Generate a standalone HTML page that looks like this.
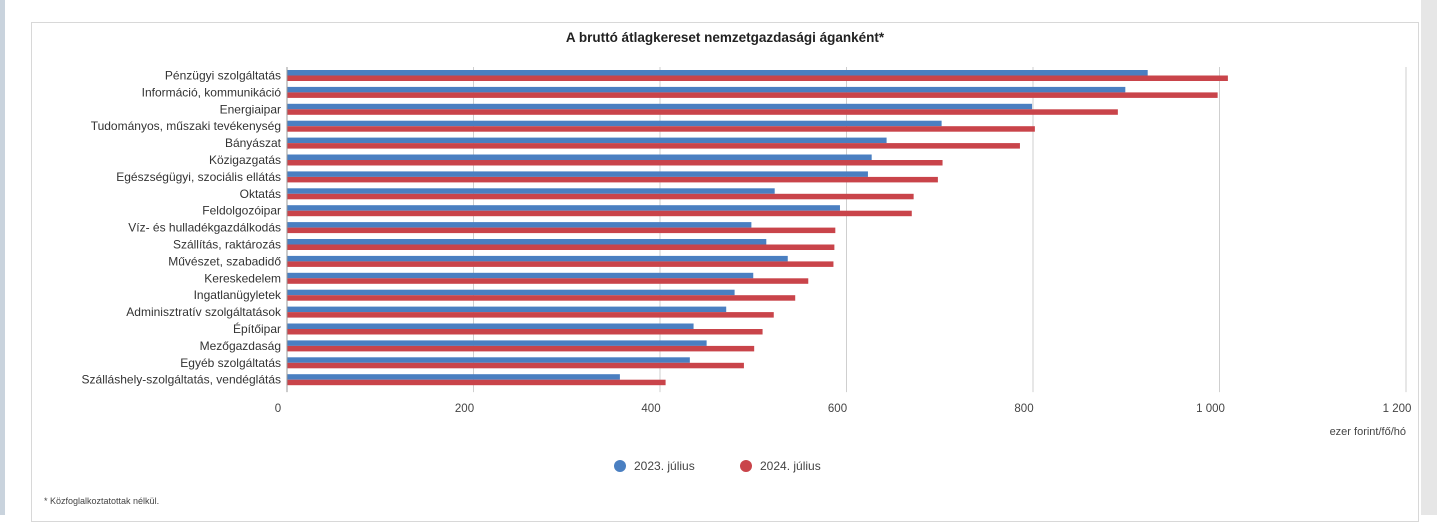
<!DOCTYPE html>
<html><head><meta charset="utf-8">
<style>
body{margin:0;width:1437px;height:515px;background:#fff;font-family:"Liberation Sans",sans-serif;overflow:hidden;position:relative}
</style></head>
<body>
<div style="position:absolute;left:0;top:0;width:5px;height:515px;background:#c9d3dd"></div>
<div style="position:absolute;left:1421px;top:0;width:16px;height:515px;background:#e6e6e6"></div>
<div style="position:absolute;left:31px;top:22px;width:1388px;height:500px;border:1px solid #d8d8d8;box-sizing:border-box"></div>
<svg id="chart" width="1437" height="515" style="position:absolute;left:0;top:0" font-family="Liberation Sans, sans-serif">
<text x="725" y="42" text-anchor="middle" font-size="13.5" font-weight="bold" fill="#222">A bruttó átlagkereset nemzetgazdasági áganként*</text>
<text x="1406" y="435" text-anchor="end" font-size="11" fill="#444">ezer forint/fő/hó</text>
<g>
<circle cx="620" cy="466" r="6" fill="#4a7fc1"/>
<text x="634" y="470" font-size="12" fill="#444">2023. július</text>
<circle cx="746" cy="466" r="6" fill="#c9444a"/>
<text x="760" y="470" font-size="12" fill="#444">2024. július</text>
</g>
<text x="44" y="504" font-size="9" fill="#444">* Közfoglalkoztatottak nélkül.</text>
<g id="plot"></g>
</svg>
<script>
const categories=["Pénzügyi szolgáltatás","Információ, kommunikáció","Energiaipar","Tudományos, műszaki tevékenység","Bányászat","Közigazgatás","Egészségügyi, szociális ellátás","Oktatás","Feldolgozóipar","Víz- és hulladékgazdálkodás","Szállítás, raktározás","Művészet, szabadidő","Kereskedelem","Ingatlanügyletek","Adminisztratív szolgáltatások","Építőipar","Mezőgazdaság","Egyéb szolgáltatás","Szálláshely-szolgáltatás, vendéglátás"];
const values2023=[923,899,799,702,643,627,623,523,593,498,514,537,500,480,471,436,450,432,357];
const values2024=[1009,998,891,802,786,703,698,672,670,588,587,586,559,545,522,510,501,490,406];
const ticks=[0,200,400,600,800,1000,1200];
const tickLabels=["0","200","400","600","800","1 000","1 200"];
const NS="http://www.w3.org/2000/svg";
const g=document.getElementById('plot');
const x0=287,x1=1406,max=1200,top0=69,band=16.9;
const xs=v=>x0+(x1-x0)*v/max;
function mk(t,a){const e=document.createElementNS(NS,t);for(const k in a)e.setAttribute(k,a[k]);g.appendChild(e);return e;}
const yEnd=top0+band*categories.length;
ticks.forEach((t,i)=>{
 if(t>0){const l=mk('line',{x1:xs(t),x2:xs(t),y1:top0-2,y2:yEnd+2,stroke:'#cfcfcf','stroke-width':1});
 
 }
 const tx=mk('text',{x:xs(t)-9,y:412,'text-anchor':'middle','font-size':11.5,fill:'#444'});
 tx.textContent=tickLabels[i];
 
 
});
categories.forEach((c,i)=>{
 const y=top0+band*i;
 const b=mk('rect',{x:x0,y:y+1,width:xs(values2023[i])-x0,height:5.5,fill:'#4a7fc1'});
 
 
 const r=mk('rect',{x:x0,y:y+6.5,width:xs(values2024[i])-x0,height:5.5,fill:'#c9444a'});
 
 
 const t=mk('text',{x:281,y:y+10.5,'text-anchor':'end','font-size':12,fill:'#333'});
 t.textContent=c;
 
 
});
const ax=mk('line',{x1:x0,x2:x0,y1:top0-2,y2:yEnd+2,stroke:'#999','stroke-width':1});


</script>
</body></html>
